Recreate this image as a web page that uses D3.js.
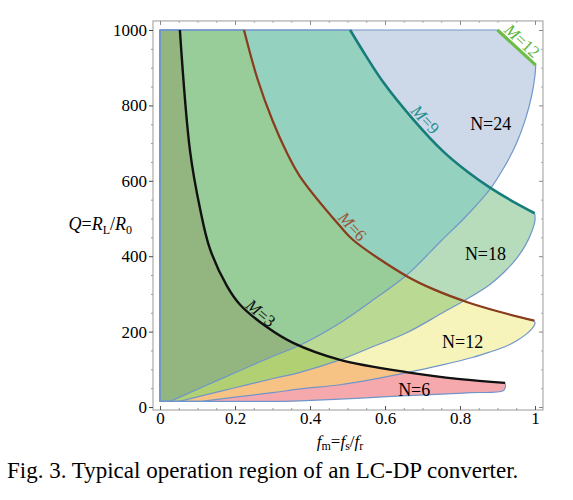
<!DOCTYPE html>
<html><head><meta charset="utf-8">
<script src="https://cdn.jsdelivr.net/npm/d3@7"></script>
<style>body{margin:0;background:#fff} svg{display:block}</style>
</head><body>
<svg id="chart" width="573" height="500"></svg>
<script>
// ---------------- data ----------------
const floorQ = 15;
const xTicks = [0, 0.2, 0.4, 0.6, 0.8, 1];
const xTickLabels = ["0", "0.2", "0.4", "0.6", "0.8", "1"];
const yTicks = [0, 200, 400, 600, 800, 1000];
const yTickLabels = ["0", "200", "400", "600", "800", "1000"];
const xMinor = [0.05,0.1,0.15,0.25,0.3,0.35,0.45,0.5,0.55,0.65,0.7,0.75,0.85,0.9,0.95];
const yMinor = [50,100,150,250,300,350,450,500,550,650,700,750,850,900,950];

// lower / right boundary of each N region  [f_m, Q]
const lowerN24 = [[0.027,15],[0.1,47],[0.2,91],[0.3,134],[0.373,164],[0.48,223],[0.56,278],[0.658,350],[0.75,441],[0.82,510],[0.88,578],[0.92,640],[0.95,698],[0.975,765],[0.992,830],[1.0,880],[1.002,907]];
const lowerN18 = [[0.052,15],[0.1,27],[0.2,51],[0.3,75],[0.373,92],[0.48,125],[0.56,157],[0.658,197],[0.75,248],[0.82,287],[0.88,325],[0.92,360],[0.95,393],[0.975,430],[0.992,467],[1.0,495],[0.999,514]];
const lowerN12 = [[0.11,15],[0.2,26],[0.3,38],[0.373,48],[0.48,59],[0.56,72],[0.658,91],[0.75,111],[0.835,132],[0.88,146],[0.92,160],[0.95,175],[0.975,192],[0.992,208],[1.0,221],[0.998,229]];
const lowerN6  = [[0.33,15],[0.373,16],[0.48,21],[0.56,25],[0.658,30],[0.75,34],[0.83,38],[0.915,43],[0.921,53],[0.92,64]];

// constant-M curves  [f_m, Q]
const curveM3  = [[0.053,1000],[0.08,680],[0.107,525],[0.133,420],[0.178,322],[0.213,272],[0.285,212],[0.355,170],[0.48,125],[0.66,92],[0.8,74],[0.92,64]];
const curveM6  = [[0.224,1000],[0.26,870],[0.3,760],[0.338,675],[0.373,612],[0.48,480],[0.515,443],[0.658,347],[0.73,312],[0.82,278],[0.9,254],[0.998,229]];
const curveM9  = [[0.507,1000],[0.55,930],[0.595,862],[0.675,763],[0.755,678],[0.82,624],[0.88,582],[0.95,540],[0.999,514]];
const curveM12 = [[0.9,1000],[1.002,907]];

const regionNames = [6, 12, 18, 24];
const regionLower = {6: lowerN6, 12: lowerN12, 18: lowerN18, 24: lowerN24};
const regionUpper = {6: curveM3, 12: curveM6, 18: curveM9, 24: curveM12};

const mCurves = [
  {name: "3",  pts: curveM3,  color: "#111111", text: "#111111", w: 2.4, f: 0.257, off: 7},
  {name: "6",  pts: curveM6,  color: "#8a3c1c", text: "#9c5534", w: 2.2, f: 0.496, off: 9},
  {name: "9",  pts: curveM9,  color: "#177d7a", text: "#1f8e8a", w: 2.6, f: 0.69,  off: 9},
  {name: "12", pts: curveM12, color: "#6cbd45", text: "#5db63a", w: 3.2, f: 0.95,  off: 9}
];
const nLabels = [
  {text: "N=24", f: 0.827, q: 735},
  {text: "N=18", f: 0.813, q: 390},
  {text: "N=12", f: 0.752, q: 156},
  {text: "N=6",  f: 0.635, q: 29}
];
const comboColors = [
  {set: [24], color: "#cdd8e9"},
  {set: [18], color: "#b6dcbc"},
  {set: [12], color: "#f6f4bb"},
  {set: [6],  color: "#f6a9ac"},
  {set: [18,24], color: "#94d1be"},
  {set: [12,18], color: "#bad993"},
  {set: [6,12],  color: "#f7c384"},
  {set: [12,18,24], color: "#98cc99"},
  {set: [6,12,18],  color: "#b1d074"},
  {set: [6,12,18,24], color: "#93b580"}
];

// ---------------- drawing ----------------
const svg = d3.select("#chart");
const serif = "'Liberation Serif','Times New Roman',serif";
const x = d3.scaleLinear().domain([0, 1]).range([160, 535]);
const y = d3.scaleLinear().domain([0, 1000]).range([407, 30]);
const fL = x(-0.0187), fR = x(1.0213), fT = y(1024), fB = y(-8);

const lineC = d3.line().x(d => x(d[0])).y(d => y(d[1])).curve(d3.curveCatmullRom.alpha(0.5));
const lineS = d3.line().x(d => x(d[0])).y(d => y(d[1]));

function regionPath(n) {
  const low = regionLower[n], up = regionUpper[n].slice().reverse();
  let d = `M${x(0)},${y(floorQ)}`;
  d += lineC(low).replace(/^M/, "L");
  d += (up.length > 2 ? lineC(up) : lineS(up)).replace(/^M/, "L");
  d += `L${x(0)},${y(1000)}Z`;
  return d;
}
const paths = {};
regionNames.forEach(n => paths[n] = regionPath(n));

const defs = svg.append("defs");
regionNames.forEach(n => defs.append("clipPath").attr("id", "clip" + n).append("path").attr("d", paths[n]));

const plot = svg.append("g");
comboColors.forEach(c => {
  let g = plot;
  c.set.slice(0, -1).forEach(n => { g = g.append("g").attr("clip-path", `url(#clip${n})`); });
  g.append("path").attr("d", paths[c.set[c.set.length - 1]]).attr("fill", c.color);
});
// region outlines
regionNames.forEach(n => {
  plot.append("path").attr("d", paths[n]).attr("fill", "none")
    .attr("stroke", "#7096c9").attr("stroke-width", 1.2).attr("stroke-linejoin", "round");
});
// constant-M curves
mCurves.forEach(m => {
  plot.append("path").attr("d", m.pts.length > 2 ? lineC(m.pts) : lineS(m.pts))
    .attr("fill", "none").attr("stroke", m.color).attr("stroke-width", m.w).attr("stroke-linecap", "butt");
});

function qAt(pts, f) {
  for (let i = 0; i < pts.length - 1; i++) {
    const a = pts[i], b = pts[i + 1];
    if (f >= a[0] && f <= b[0]) return a[1] + (b[1] - a[1]) * (f - a[0]) / (b[0] - a[0]);
  }
  return pts[pts.length - 1][1];
}
mCurves.forEach(m => {
  const f1 = Math.max(m.pts[0][0], m.f - 0.02), f2 = Math.min(m.pts[m.pts.length - 1][0], m.f + 0.02);
  const ang = Math.atan2(y(qAt(m.pts, f2)) - y(qAt(m.pts, f1)), x(f2) - x(f1));
  const px = x(m.f) + Math.sin(ang) * m.off, py = y(qAt(m.pts, m.f)) - Math.cos(ang) * m.off;
  const t = svg.append("text")
    .attr("transform", `translate(${px},${py}) rotate(${ang * 180 / Math.PI})`)
    .attr("text-anchor", "middle").attr("dy", "0.35em")
    .attr("font-family", serif).attr("font-size", 17).attr("fill", m.text);
  t.append("tspan").attr("font-style", "italic").text("M");
  t.append("tspan").text("=" + m.name);
});
nLabels.forEach(l => {
  svg.append("text").attr("x", x(l.f)).attr("y", y(l.q))
    .attr("font-family", serif).attr("font-size", 18).attr("fill", "#000").text(l.text);
});

// frame
svg.append("rect").attr("x", fL).attr("y", fT).attr("width", fR - fL).attr("height", fB - fT)
  .attr("fill", "none").attr("stroke", "#9a9a9a").attr("stroke-width", 1);

function styleAxis(g, col) {
  g.select(".domain").remove();
  g.selectAll(".tick line").attr("stroke", col);
  g.selectAll("text").attr("font-family", serif).attr("font-size", 17).attr("fill", "#000");
}
// left
svg.append("g").attr("transform", `translate(${fL},0)`)
  .call(d3.axisLeft(y).tickValues(yTicks).tickFormat((d, i) => yTickLabels[i]).tickSize(4).tickPadding(2))
  .call(g => styleAxis(g, "#444"));
svg.append("g").attr("transform", `translate(${fL},0)`)
  .call(d3.axisLeft(y).tickValues(yMinor).tickFormat("").tickSize(2)).call(g => styleAxis(g, "#999"));
// bottom
svg.append("g").attr("transform", `translate(0,${fB})`)
  .call(d3.axisBottom(x).tickValues(xTicks).tickFormat((d, i) => xTickLabels[i]).tickSize(-4).tickPadding(2))
  .call(g => styleAxis(g, "#555"));
svg.append("g").attr("transform", `translate(0,${fB})`)
  .call(d3.axisBottom(x).tickValues(xMinor).tickFormat("").tickSize(-2)).call(g => styleAxis(g, "#999"));
// top
svg.append("g").attr("transform", `translate(0,${fT})`)
  .call(d3.axisTop(x).tickValues(xTicks).tickFormat("").tickSize(-4)).call(g => styleAxis(g, "#888"));
svg.append("g").attr("transform", `translate(0,${fT})`)
  .call(d3.axisTop(x).tickValues(xMinor).tickFormat("").tickSize(-2)).call(g => styleAxis(g, "#aaa"));
// right
svg.append("g").attr("transform", `translate(${fR},0)`)
  .call(d3.axisRight(y).tickValues(yTicks).tickFormat("").tickSize(-4)).call(g => styleAxis(g, "#888"));
svg.append("g").attr("transform", `translate(${fR},0)`)
  .call(d3.axisRight(y).tickValues(yMinor).tickFormat("").tickSize(-2)).call(g => styleAxis(g, "#aaa"));

// axis titles
const yt = svg.append("text").attr("x", 132).attr("y", 230).attr("text-anchor", "end")
  .attr("font-family", serif).attr("font-size", 18).attr("fill", "#000");
yt.append("tspan").attr("font-style", "italic").text("Q");
yt.append("tspan").text("=");
yt.append("tspan").attr("font-style", "italic").text("R");
yt.append("tspan").attr("font-size", 12).attr("dy", 4).text("L");
yt.append("tspan").attr("dy", -4).text("/");
yt.append("tspan").attr("font-style", "italic").text("R");
yt.append("tspan").attr("font-size", 12).attr("dy", 4).text("0");

const xt = svg.append("text").attr("x", 340).attr("y", 447).attr("text-anchor", "middle")
  .attr("font-family", serif).attr("font-size", 17).attr("fill", "#000");
xt.append("tspan").attr("font-style", "italic").text("f");
xt.append("tspan").attr("font-size", 12).attr("dy", 3).text("m");
xt.append("tspan").attr("dy", -3).text("=");
xt.append("tspan").attr("font-style", "italic").text("f");
xt.append("tspan").attr("font-size", 12).attr("dy", 3).text("s");
xt.append("tspan").attr("dy", -3).text("/");
xt.append("tspan").attr("font-style", "italic").text("f");
xt.append("tspan").attr("font-size", 12).attr("dy", 3).text("r");

svg.append("text").attr("x", 7).attr("y", 478)
  .attr("font-family", serif).attr("font-size", 23).attr("fill", "#000")
  .text("Fig. 3. Typical operation region of an LC-DP converter.");
</script>
</body></html>
